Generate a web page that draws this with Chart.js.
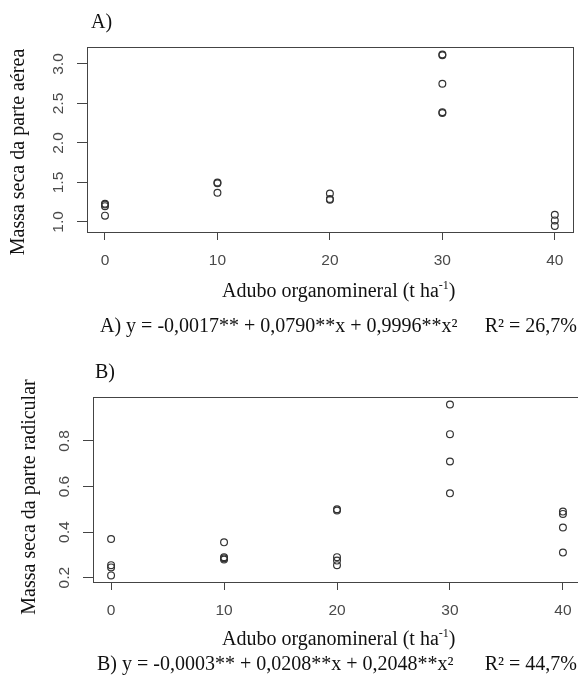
<!DOCTYPE html>
<html>
<head>
<meta charset="utf-8">
<script src="https://cdn.jsdelivr.net/npm/chart.js@4"></script>
<style>
  body { margin: 0; background: #fff; overflow: hidden; width: 578px; height: 695px; position: relative; }
  .wrap { position: absolute; left: 0; }
  #wrapA { top: 0; width: 578px; height: 345px; }
  #wrapB { top: 350px; width: 600px; height: 345px; }
</style>
</head>
<body>
<div class="wrap" id="wrapA"><canvas id="chartA"></canvas></div>
<div class="wrap" id="wrapB"><canvas id="chartB"></canvas></div>
<script>
// doses (t/ha) and the observed values at each dose
const doses = [0, 10, 20, 30, 40];
const massaAerea = [
    [1.23, 1.22, 1.20, 1.08],
    [1.50, 1.49, 1.37],
    [1.36, 1.29, 1.28],
    [3.12, 3.11, 2.75, 2.39, 2.38],
    [1.09, 1.02, 0.95]
];
const massaRadicular = [
    [0.37, 0.255, 0.245, 0.21],
    [0.355, 0.29, 0.285, 0.28],
    [0.50, 0.495, 0.29, 0.275, 0.255],
    [0.96, 0.83, 0.71, 0.57],
    [0.49, 0.48, 0.42, 0.31]
];
const xTickLabels = ['0', '10', '20', '30', '40'];
const aereaTickLabels = ['1.0', '1.5', '2.0', '2.5', '3.0'];
const radicularTickLabels = ['0.2', '0.4', '0.6', '0.8'];

const serif = '"Liberation Serif", "Times New Roman", serif';
const sans = '"Liberation Sans", Arial, sans-serif';

// flatten per-dose lists into {x, y} points
const toPoints = (groups) => {
    const pts = [];
    groups.forEach((vals, i) => vals.forEach(v => pts.push({ x: doses[i], y: v })));
    return pts;
};

// R-like decorations: box, rotated y labels, titles with superscript
const rStyle = {
    id: 'rStyle',
    afterDraw(chart, args, o) {
        const ctx = chart.ctx;
        const a = chart.chartArea;
        const xs = chart.scales.x;
        const ys = chart.scales.y;
        ctx.save();
        ctx.strokeStyle = '#444';
        ctx.lineWidth = 1;
        ctx.strokeRect(Math.round(a.left) + 0.5, Math.round(a.top) + 0.5,
            Math.round(a.right - a.left), Math.round(a.bottom - a.top));

        // tick labels
        ctx.fillStyle = '#4a4a4a';
        ctx.font = '15.5px ' + sans;
        ctx.textAlign = 'center';
        ctx.textBaseline = 'middle';
        xTickLabels.forEach(t => {
            ctx.fillText(t, xs.getPixelForValue(parseFloat(t)), 261);
        });
        o.yLabels.forEach(t => {
            ctx.save();
            ctx.translate(a.left - 28, ys.getPixelForValue(parseFloat(t)));
            ctx.rotate(-Math.PI / 2);
            ctx.fillText(t, 0, 0);
            ctx.restore();
        });

        // titles
        ctx.fillStyle = '#111';
        ctx.font = '20px ' + serif;
        ctx.textBaseline = 'alphabetic';
        ctx.textAlign = 'left';
        ctx.fillText(o.panel, o.panelX, 28);

        ctx.save();
        ctx.translate(o.yTitleX, o.yTitleY);
        ctx.rotate(-Math.PI / 2);
        ctx.textAlign = 'center';
        ctx.fillText(o.yTitle, 0, 0);
        ctx.restore();

        // x title with superscript
        const main = 'Adubo organomineral (t ha';
        let x = 222;
        ctx.fillText(main, x, o.xTitleY);
        x += ctx.measureText(main).width;
        ctx.font = '12px ' + serif;
        ctx.fillText('-1', x, o.xTitleY - 8);
        x += ctx.measureText('-1').width;
        ctx.font = '20px ' + serif;
        ctx.fillText(')', x, o.xTitleY);

        // regression equation
        ctx.fillText(o.eq, o.eqX, o.eqY);
        ctx.textAlign = 'right';
        ctx.fillText(o.r2, 577, o.eqY);
        ctx.restore();
    }
};

const makeChart = (id, groups, yMin, yMax, yLabels, padRight, deco) => {
    return new Chart(document.getElementById(id), {
        type: 'scatter',
        data: {
            datasets: [{
                data: toPoints(groups),
                pointStyle: 'circle',
                pointRadius: 3.4,
                pointBorderWidth: 1.2,
                borderColor: '#333',
                backgroundColor: 'rgba(0,0,0,0)'
            }]
        },
        options: {
            responsive: true,
            maintainAspectRatio: false,
            animation: false,
            events: [],
            layout: { padding: { left: 0, right: padRight, top: 47, bottom: 0 } },
            plugins: {
                legend: { display: false },
                tooltip: { enabled: false },
                rStyle: Object.assign({ yLabels: yLabels }, deco)
            },
            scales: {
                x: {
                    type: 'linear',
                    min: -1.6,
                    max: 41.6,
                    afterBuildTicks: s => { s.ticks = xTickLabels.map(t => ({ value: parseFloat(t) })); },
                    afterFit: s => { s.height = 345 - 232; },
                    ticks: { display: false },
                    border: { display: false },
                    grid: { drawOnChartArea: false, drawTicks: true, tickLength: 8, color: '#444' }
                },
                y: {
                    type: 'linear',
                    min: yMin,
                    max: yMax,
                    afterBuildTicks: s => { s.ticks = yLabels.map(t => ({ value: parseFloat(t) })); },
                    afterFit: s => { s.width = deco.boxLeft; },
                    ticks: { display: false },
                    border: { display: false },
                    grid: { drawOnChartArea: false, drawTicks: true, tickLength: 10, color: '#444' }
                }
            }
        },
        plugins: [rStyle]
    });
};

makeChart('chartA', massaAerea, 0.873, 3.215, aereaTickLabels, 3, {
    boxLeft: 87,
    panel: 'A)', panelX: 91,
    yTitle: 'Massa seca da parte aérea', yTitleX: 24, yTitleY: 152,
    xTitleY: 297,
    eq: 'A) y = -0,0017** + 0,0790**x + 0,9996**x²', eqX: 100, eqY: 332,
    r2: 'R² = 26,7%'
});

makeChart('chartB', massaRadicular, 0.181, 0.993, radicularTickLabels, 19, {
    boxLeft: 93,
    panel: 'B)', panelX: 95,
    yTitle: 'Massa seca da parte radicular', yTitleX: 35, yTitleY: 147,
    xTitleY: 295,
    eq: 'B) y = -0,0003** + 0,0208**x + 0,2048**x²', eqX: 97, eqY: 320,
    r2: 'R² = 44,7%'
});
</script>
</body>
</html>
